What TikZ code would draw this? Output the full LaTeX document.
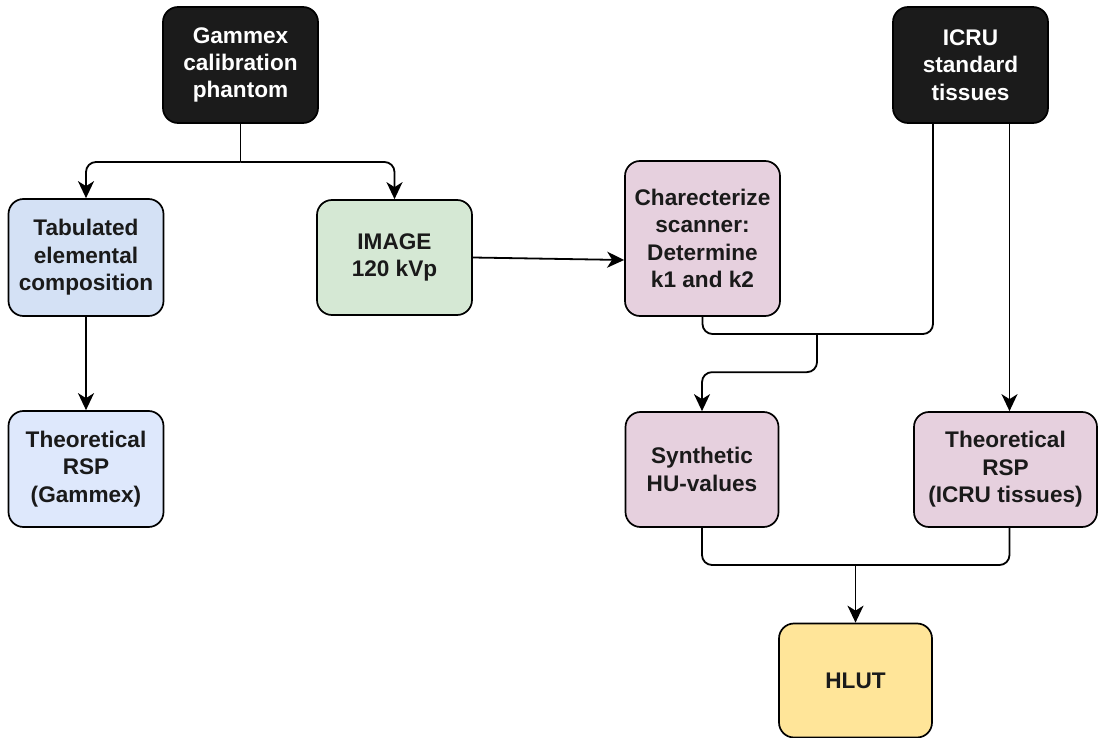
\documentclass[tikz,border=0pt]{standalone}
\usepackage{fontspec}
\setmainfont{Liberation Sans}
\usetikzlibrary{arrows.meta,calc}
\definecolor{darkbox}{HTML}{1B1B1B}
\definecolor{tabblue}{HTML}{D4E1F5}
\definecolor{theoblue}{HTML}{DEE8FC}
\definecolor{imggreen}{HTML}{D5E8D4}
\definecolor{pinkbox}{HTML}{E6D0DE}
\definecolor{hlutyel}{HTML}{FFE599}
\definecolor{txt}{HTML}{1A1A1A}
\tikzset{
  box/.style={draw=black, line width=0.85pt, rounded corners=7.5pt, align=center,
    font=\fontsize{11.3}{13.7}\selectfont\bfseries, text=txt, inner sep=0pt},
  darkstyle/.style={box, fill=darkbox, text=white},
  conn/.style={line width=0.9pt, draw=black, rounded corners=5pt},
  arr/.style={conn, -{Stealth[length=8.5pt,width=8pt,inset=2.5pt]}},
}
\begin{document}
\begin{tikzpicture}[x=0.5pt,y=-0.5pt]
\useasboundingbox (0,0) rectangle (1099,738);
% nodes
\node[darkstyle, minimum width=77.5pt, minimum height=58pt] (gam) at (240.5,65) {Gammex\\calibration\\phantom};
\node[darkstyle, minimum width=77.5pt, minimum height=58pt] (icru) at (970.5,65) {ICRU\\standard\\tissues};
\node[box, fill=tabblue, minimum width=77.5pt, minimum height=58.5pt] (tab) at (86,257.5) {Tabulated\\elemental\\composition};
\node[box, fill=imggreen, minimum width=77.5pt, minimum height=57.5pt] (img) at (394.5,257.5) {IMAGE\\120 kVp};
\node[box, fill=pinkbox, minimum width=77.5pt, minimum height=77.5pt] (char) at (702.5,238.5) {Charecterize\\scanner:\\Determine\\k1 and k2};
\node[box, fill=theoblue, minimum width=77.5pt, minimum height=58pt] (theo) at (86,469) {Theoretical\\RSP\\(Gammex)};
\node[box, fill=pinkbox, minimum width=76.5pt, minimum height=57.5pt] (syn) at (702,469.5) {Synthetic\\HU-values};
\node[box, fill=pinkbox, minimum width=91.5pt, minimum height=57.5pt] (rspi) at (1005.5,469.5) {Theoretical\\RSP\\(ICRU tissues)};
\node[box, fill=hlutyel, minimum width=76.5pt, minimum height=57pt] (hlut) at (855.5,680.5) {HLUT};
% helper coordinates
\coordinate (j1) at (240.5,162);
\coordinate (icruL) at ($(icru.south)+(-37.5,0)$);
\coordinate (icruR) at ($(icru.south)+(39,0)$);
\coordinate (j2) at (817,334);
\coordinate (rspB) at ($(rspi.south)+(4,0)$);
\coordinate (j4) at (855.5,565);
% connectors
\draw[conn] (gam.south) -- (j1);
\draw[arr] (j1) -| (tab.north);
\draw[arr] (j1) -| (img.north);
\draw[arr] (tab.south) -- (theo.north);
\draw[arr, rounded corners=0pt] (img.east) -- ($(char.west)+(0,21.5)$);
\draw[conn] (char.south) |- (j2) -| (icruL);
\draw[arr] (j2) |- ($(syn.north)+(0,-39)$) -- (syn.north);
\draw[arr] (icruR) -- (icruR |- rspi.north);
\draw[conn] (syn.south) |- (j4) -| (rspB);
\draw[arr] (j4) -- (hlut.north);
\end{tikzpicture}
\end{document}
